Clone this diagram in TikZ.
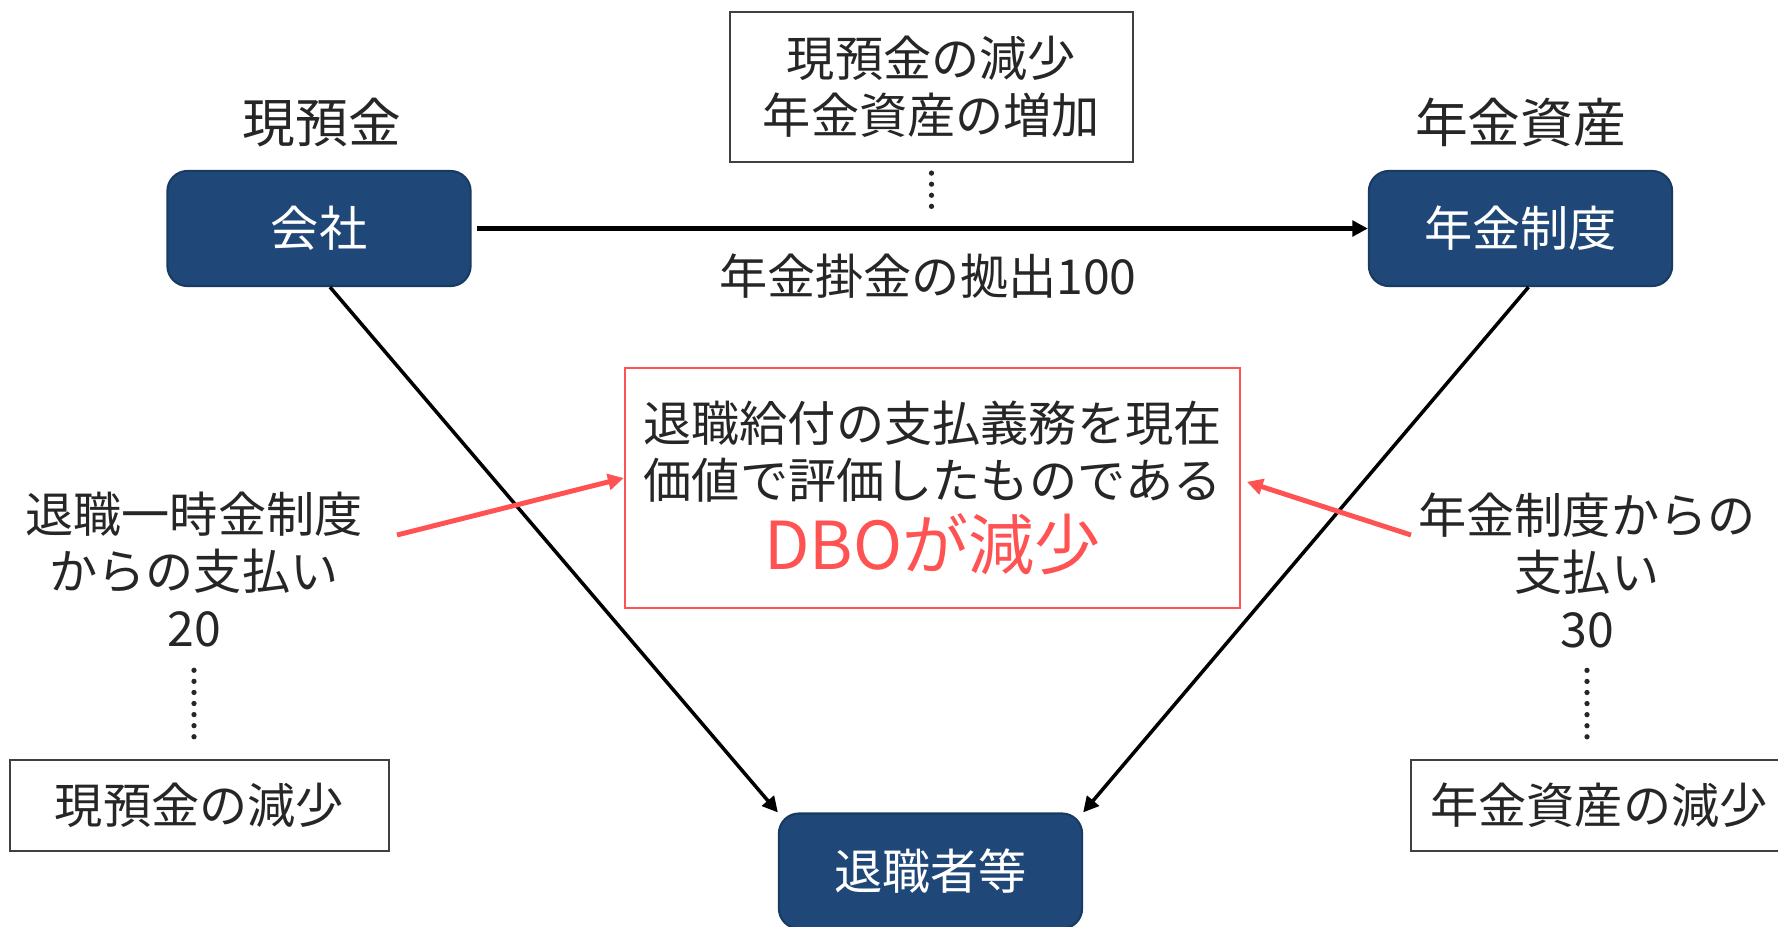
\documentclass[tikz,border=0pt]{standalone}
\usepackage{fontspec}
\setmainfont{Noto Sans CJK JP}
\usetikzlibrary{arrows.meta,positioning,calc}
\definecolor{navy}{HTML}{1F4878}
\definecolor{navyedge}{HTML}{183A63}
\definecolor{ink}{HTML}{262626}
\definecolor{alert}{HTML}{FF5252}
\tikzset{
  party/.style={draw=navyedge, line width=0.6pt, fill=navy, rounded corners=5.7pt, text=white, minimum width=3.03cm, minimum height=1.15cm, inner sep=0pt, font=\fontsize{13.7}{16.2}\selectfont},
  note/.style={draw=black!75, line width=0.6pt, text=ink, align=center, inner sep=0pt, font=\fontsize{13.7}{16.2}\selectfont},
  lbl/.style={text=ink, align=center, inner sep=0pt, font=\fontsize{13.7}{16.2}\selectfont},
  head/.style={text=ink, inner sep=0pt, font=\fontsize{15}{18}\selectfont},
  flow/.style={-{Triangle[length=4.4pt,width=4.4pt]}, line width=1pt},
  hint/.style={-{Triangle[length=4.5pt,width=4.5pt]}, draw=alert, fill=alert, line width=1.4pt},
  dots/.style={draw=ink, line width=1.5pt, line cap=round, dash pattern=on 0pt off 3.15pt},
}
\begin{document}
\begin{tikzpicture}[x=0.01cm,y=-0.01cm]
  \useasboundingbox (0,0) rectangle (1778,926);
  % parties
  \node[party] (company) at (319,228.5) {会社};
  \node[party] (plan) at (1520.5,228.5) {年金制度};
  \node[party] (retiree) at (930.5,871) {退職者等};
  \node[head] (cashlbl) at ($(company.north)+(3,-47)$) {現預金};
  \node[head] (assetlbl) at ($(plan.north)+(0,-47)$) {年金資産};

  % contribution
  \node[note, minimum width=4.03cm, minimum height=1.5cm] (topnote) at (931.5,87) {現預金の減少\\年金資産の増加};
  \node[lbl] (contrib) at (928,276) {年金掛金の拠出100};
  \draw[flow, line width=1.15pt, shorten <=0.05cm] (company) -- (plan);
  \draw[dots, shorten <=0.1cm, shorten >=0.21cm] (topnote.south) -- (topnote.south |- company.east);

  % benefit payments
  \node[note, draw=alert, minimum width=6.15cm, minimum height=2.4cm] (dbo) at (932.5,488)
    {退職給付の支払義務を現在\\価値で評価したものである\\[2pt]{\color{alert}\fontsize{18.8}{22}\selectfont DBOが減少}};
  \node[lbl] (lumpsum) at (194,570) {退職一時金制度\\からの支払い\\20};
  \node[lbl] (annuity) at (1587,570) {年金制度からの\\支払い\\30};
  \node[note, minimum width=3.79cm, minimum height=0.91cm] (cashdown) at (199.5,805.5) {現預金の減少};
  \node[note, minimum width=3.76cm, minimum height=0.91cm] (assetdown) at (1599,805.5) {年金資産の減少};
  \draw[flow] ($(company.south)+(11,0)$) -- (retiree.north west);
  \draw[flow] ($(plan.south)+(8,0)$) -- (retiree.north east);
  \draw[dots, shorten <=0.22cm, shorten >=0.22cm] (lumpsum.south) -- (lumpsum.south |- cashdown.north);
  \draw[dots, shorten <=0.22cm, shorten >=0.22cm] (annuity.south) -- (annuity.south |- assetdown.north);

  % pointers to DBO
  \coordinate (lstail) at (397,535);
  \coordinate (antail) at (1411,535);
  \draw[hint] (lstail) -- ($(dbo.west)+(0,-10)$);
  \draw[hint, shorten >=0.06cm] (antail) -- ($(dbo.east)+(0,-8)$);
\end{tikzpicture}
\end{document}
